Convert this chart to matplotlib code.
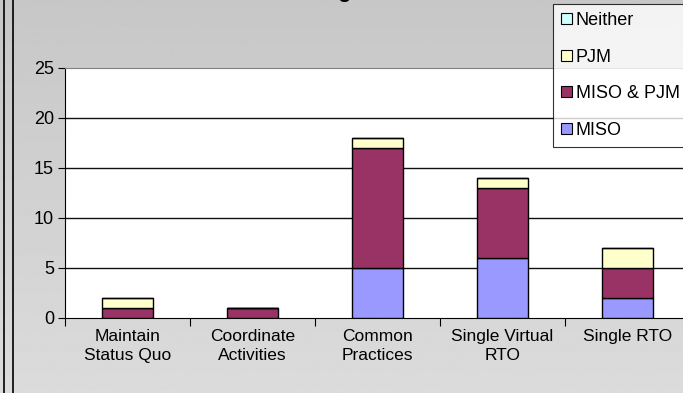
import numpy as np
import matplotlib.pyplot as plt
from matplotlib.patches import Patch

plt.rcParams['font.family'] = ['Liberation Sans', 'DejaVu Sans']

categories = ['Maintain\nStatus Quo', 'Coordinate\nActivities', 'Common\nPractices',
              'Single Virtual\nRTO', 'Single RTO']
miso = [0, 0, 5, 6, 2]
miso_pjm = [1, 1, 12, 7, 3]
pjm = [1, 0, 1, 1, 2]
neither = [0, 0, 0, 0, 0]

series = [('MISO', miso, '#9999FF'),
          ('MISO & PJM', miso_pjm, '#993366'),
          ('PJM', pjm, '#FFFFCC'),
          ('Neither', neither, '#CCFFFF')]

W, H = 683, 393
fig = plt.figure(figsize=(W / 100, H / 100), dpi=100)

# gray gradient background for the chart area
bg = fig.add_axes([0, 0, 1, 1], zorder=-10)
grad = np.linspace(0.78, 0.86, 256).reshape(-1, 1)
bg.imshow(grad, cmap='gray', vmin=0, vmax=1, aspect='auto', extent=[0, 1, 0, 1])
bg.set_xlim(0, 1)
bg.set_ylim(0, 1)
bg.axis('off')
# double frame lines at the left edge
for x in (3.5, 12.5):
    bg.axvline(x / W, color='black', lw=1.2)

ax = fig.add_axes([65 / W, 1 - 318 / H, 625 / W, 250 / H])
ax.set_facecolor('white')

x = np.arange(len(categories))
bottom = np.zeros(len(categories))
for name, vals, color in series:
    vals = np.array(vals, dtype=float)
    ax.bar(x, vals, width=0.41, bottom=bottom, color=color,
           edgecolor='black', linewidth=1, zorder=3)
    bottom += vals

ax.set_xlim(-0.5, len(categories) - 0.5)
ax.set_ylim(0, 25)
ax.set_yticks(range(0, 26, 5))
ax.tick_params(axis='y', direction='out', length=5, width=0.8, labelsize=13, pad=3)
for v in range(5, 25, 5):
    ax.axhline(v, color='#111111', lw=1, zorder=1)

ax.set_xticks(x)
ax.set_xticklabels(categories, fontsize=12.5, linespacing=1.35)
ax.tick_params(axis='x', length=0, pad=8)
ax.set_xticks(np.arange(-0.5, len(categories), 1), minor=True)
ax.tick_params(axis='x', which='minor', direction='out', length=6, width=0.8)

ax.spines['right'].set_visible(False)
ax.spines['top'].set_color('#808080')
ax.spines['left'].set_color('black')
ax.spines['bottom'].set_color('black')

# title clipped by the top edge of the picture
fig.text(352 / W, 1 + 2.5 / H, 'Ranking', ha='right', va='baseline',
         fontsize=15, fontweight='bold')

handles = [Patch(facecolor=c, edgecolor='black', linewidth=0.8, label=n)
           for n, _, c in reversed(series)]
leg = fig.legend(handles=handles, loc='upper left',
                 bbox_to_anchor=(553 / W, 1 - 4 / H), fontsize=13,
                 frameon=True, fancybox=False, edgecolor='black',
                 handlelength=0.6, handleheight=0.6, handletextpad=0.2,
                 labelspacing=1.08, borderpad=0.45, borderaxespad=0)
leg.get_frame().set_linewidth(0.8)
leg.get_frame().set_facecolor('white')

fig.savefig('out.png', dpi=100)
